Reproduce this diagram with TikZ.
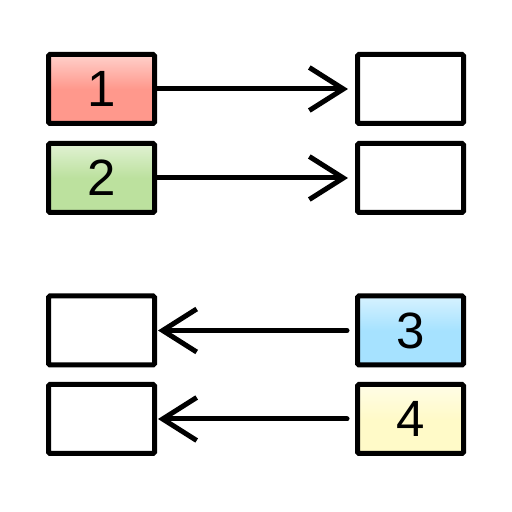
\documentclass[tikz,border=0pt]{standalone}
\usepackage{fontspec}
\setmainfont{Liberation Sans}
\usetikzlibrary{arrows.meta,positioning}

\begin{document}
\begin{tikzpicture}[x=1pt,y=1pt]
    % Colors and styles
    \definecolor{boxred}{RGB}{255, 152, 140}
    \definecolor{boxgreen}{RGB}{188, 225, 158}
    \definecolor{boxblue}{RGB}{166, 226, 255}
    \definecolor{boxyellow}{RGB}{255, 250, 200}
    \tikzset{
        cell/.style={draw=black, line width=5pt, rounded corners=1.5pt,
            minimum width=106pt, minimum height=69pt, inner sep=0pt,
            font=\fontsize{51}{51}\selectfont},
        fillcell/.style={cell, top color=#1!45!white, bottom color=#1,
            middle color=#1},
        move/.style={line width=5pt, line cap=round,
            -{Straight Barb[length=34pt, width=43pt, line width=5pt]}}
    }
    \useasboundingbox (0,0) rectangle (512,512);

    % Upper pair: left to right
    \node[fillcell=boxred] (one) at (101.5,423) {1};
    \node[fillcell=boxgreen] (two) at (101.5,334) {2};
    \node[cell] (oneout) at (410.5,423) {};
    \node[cell] (twoout) at (410.5,334) {};

    % Lower pair: right to left
    \node[cell] (threeout) at (101.5,181.5) {};
    \node[cell] (fourout) at (101.5,93) {};
    \node[fillcell=boxblue] (three) at (410.5,181.5) {3};
    \node[fillcell=boxyellow] (four) at (410.5,93) {4};

    % Arrows
    \draw[move, shorten >=7pt] (one) -- (oneout);
    \draw[move, shorten >=7pt] (two) -- (twoout);
    \draw[move, shorten >=1pt, shorten <=8pt] (three) -- (threeout);
    \draw[move, shorten >=1pt, shorten <=8pt] (four) -- (fourout);
\end{tikzpicture}
\end{document}
